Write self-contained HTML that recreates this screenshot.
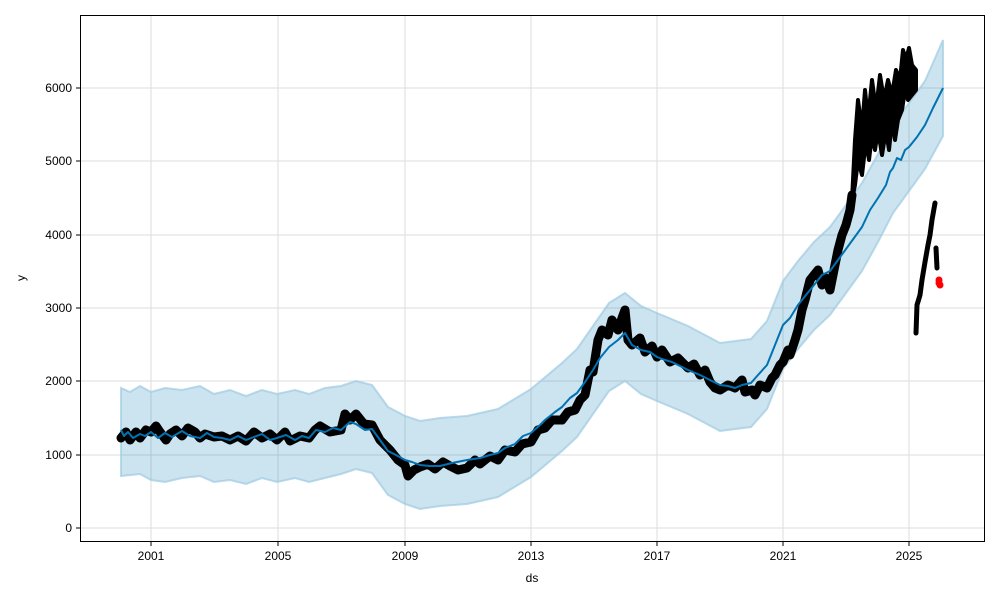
<!DOCTYPE html>
<html><head><meta charset="utf-8"><style>
body{margin:0;background:#fff}
svg{display:block;font-family:"Liberation Sans",sans-serif}
</style></head><body>
<svg width="1000" height="600" viewBox="0 0 1000 600" xmlns="http://www.w3.org/2000/svg">
<rect width="1000" height="600" fill="#fff"/>
<g stroke="#dddddd" stroke-width="1">
<line x1="151" y1="15" x2="151" y2="542"/><line x1="278" y1="15" x2="278" y2="542"/>
<line x1="405" y1="15" x2="405" y2="542"/><line x1="531" y1="15" x2="531" y2="542"/>
<line x1="657" y1="15" x2="657" y2="542"/><line x1="783" y1="15" x2="783" y2="542"/>
<line x1="909" y1="15" x2="909" y2="542"/>
<line x1="80" y1="528" x2="985" y2="528"/><line x1="80" y1="455" x2="985" y2="455"/>
<line x1="80" y1="381" x2="985" y2="381"/><line x1="80" y1="308" x2="985" y2="308"/>
<line x1="80" y1="235" x2="985" y2="235"/><line x1="80" y1="161" x2="985" y2="161"/>
<line x1="80" y1="88" x2="985" y2="88"/>
</g>
<path fill="#0072b2" fill-opacity="0.2" stroke="#9ecae1" stroke-width="2" stroke-opacity="0.7"
d="M121,388 L130,392 L140,386 L151,392 L165,388 L182,390 L200,386 L214,394 L230,390 L246,396 L262,390 L277,394 L295,390 L309,394 L325,388 L341,386 L356,381 L372,385 L388,407 L405,416 L420,421 L440,418 L467,416 L498,409 L531,389 L562,363 L577,349 L593,326 L609,303 L625,293 L641,306 L657,313 L688,326 L720,343 L751,339 L767,321 L783,281 L798,261 L814,242 L830,227 L846,205 L862,183 L878,154 L893,125 L909,103 L925,81 L943,40
L943,136 L925,169 L909,191 L893,213 L878,242 L862,271 L846,293 L830,315 L814,330 L798,349 L783,369 L767,409 L751,427 L720,431 L688,414 L657,401 L641,394 L625,381 L609,391 L593,414 L577,437 L562,451 L531,477 L498,497 L467,504 L440,506 L420,509 L405,504 L388,495 L372,473 L356,469 L341,474 L325,478 L309,482 L295,478 L277,482 L262,478 L246,484 L230,480 L214,482 L200,476 L182,478 L165,482 L151,480 L140,474 L121,476 Z"/>
<g fill="none" stroke="#000" stroke-linejoin="round" stroke-linecap="round">
<path stroke-width="9" d="M121,438 L126,432 L130,440 L136,432 L140,438 L146,430 L151,432 L156,426 L160,432 L166,440 L170,434 L176,430 L182,436 L188,428 L195,432 L200,438 L205,434 L214,437 L222,436 L230,440 L238,436 L246,441 L254,432 L262,438 L270,434 L277,440 L285,432 L290,441 L300,436 L309,438 L315,430 L320,426 L330,432 L341,430 L345,414 L350,420 L356,414 L364,424 L372,425 L380,440 L390,450 L398,460 L405,465 L408,476 L414,470 L420,467 L428,464 L435,469 L443,462 L450,466 L458,470 L467,468 L475,460 L480,464 L490,456 L498,460 L505,450 L515,452 L522,444 L531,442 L538,430 L545,428 L552,420 L562,420 L568,412 L575,410 L580,400 L585,395 L590,370 L593,372 L598,340 L602,330 L608,335 L612,320 L618,330 L622,318 L625,310 L628,340 L632,345 L640,338 L645,352 L652,346 L657,357 L662,350 L670,362 L678,358 L688,368 L694,364 L700,375 L705,370 L710,382 L715,388 L720,390 L728,385 L735,388 L742,380 L745,392 L752,390 L755,395 L760,385 L767,388 L772,378 L775,375 L780,365 L783,362 L788,350 L790,355 L795,340 L798,330 L802,310 L805,300 L810,280 L814,275 L818,270 L822,285 L826,278 L830,290 L834,270 L838,250 L842,235 L846,225 L850,210 L852,195"/>
<path fill="#000" stroke-width="4" d="M852,200 L855,140 L858,100 L862,130 L865,90 L868,120 L872,80 L876,110 L880,75 L884,100 L888,80 L892,95 L896,70 L900,80 L903,50 L906,60 L909,48 L912,65 L916,70 L916,90 L912,95 L908,100 L905,90 L902,110 L898,120 L895,140 L892,120 L889,150 L886,130 L882,155 L878,130 L875,150 L872,135 L869,160 L866,140 L862,175 L858,160 L855,185 Z"/>
<path stroke-width="5" d="M916,333 L917,305 L920,295 L922,280 L925,262 L928,245 L930,235 L932,220 L935,203 M936,248 L937,268"/>
</g>
<g fill="red"><circle cx="939" cy="280" r="3.5"/><circle cx="940" cy="285" r="3.5"/><circle cx="939" cy="283" r="3.5"/></g>
<path fill="none" stroke="#0072b2" stroke-width="2" stroke-linejoin="round"
d="M121,430 L124,436 L128,432 L133,438 L140,434 L145,436 L151,432 L158,438 L165,433 L172,437 L182,431 L190,436 L200,438 L207,433 L214,437 L222,438 L230,440 L238,436 L246,440 L254,437 L262,434 L270,440 L277,438 L286,435 L295,440 L302,436 L309,438 L316,430 L325,432 L333,428 L341,430 L350,422 L356,424 L365,430 L372,429 L380,440 L388,451 L396,455 L405,460 L412,462 L420,465 L430,466 L440,466 L452,463 L467,460 L480,458 L490,455 L498,453 L505,448 L515,444 L523,436 L531,433 L540,425 L545,420 L555,412 L562,407 L570,398 L577,393 L585,382 L593,370 L600,358 L609,347 L618,340 L625,333 L632,345 L641,350 L650,352 L657,357 L665,360 L672,362 L680,366 L688,370 L700,375 L710,380 L720,385 L728,386 L735,388 L742,385 L751,383 L758,375 L767,365 L775,345 L783,325 L790,318 L798,305 L806,295 L814,285 L822,275 L830,271 L838,260 L846,249 L854,238 L862,227 L870,210 L878,198 L886,185 L890,172 L893,168 L897,158 L901,160 L905,150 L909,147 L917,137 L925,125 L933,108 L943,88"/>
<rect x="80.5" y="15.5" width="904" height="526" fill="none" stroke="#000" stroke-width="1"/>
<g stroke="#000"><line x1="151" y1="542" x2="151" y2="546"/><line x1="278" y1="542" x2="278" y2="546"/><line x1="405" y1="542" x2="405" y2="546"/><line x1="531" y1="542" x2="531" y2="546"/><line x1="657" y1="542" x2="657" y2="546"/><line x1="783" y1="542" x2="783" y2="546"/><line x1="909" y1="542" x2="909" y2="546"/>
<line x1="76" y1="528" x2="80" y2="528"/><line x1="76" y1="455" x2="80" y2="455"/><line x1="76" y1="381" x2="80" y2="381"/><line x1="76" y1="308" x2="80" y2="308"/><line x1="76" y1="235" x2="80" y2="235"/><line x1="76" y1="161" x2="80" y2="161"/><line x1="76" y1="88" x2="80" y2="88"/></g>
<g font-size="12" text-anchor="middle" fill="#000">
<text x="151" y="560">2001</text><text x="278" y="560">2005</text><text x="405" y="560">2009</text><text x="531" y="560">2013</text><text x="657" y="560">2017</text><text x="783" y="560">2021</text><text x="909" y="560">2025</text>
<text x="532" y="582">ds</text>
</g>
<g font-size="12" text-anchor="end" fill="#000">
<text x="72" y="532">0</text><text x="72" y="459">1000</text><text x="72" y="385">2000</text><text x="72" y="312">3000</text><text x="72" y="239">4000</text><text x="72" y="165">5000</text><text x="72" y="92">6000</text>
</g>
<text x="25" y="278" font-size="12" text-anchor="middle" transform="rotate(-90 25 278)">y</text>
</svg>
</body></html>
